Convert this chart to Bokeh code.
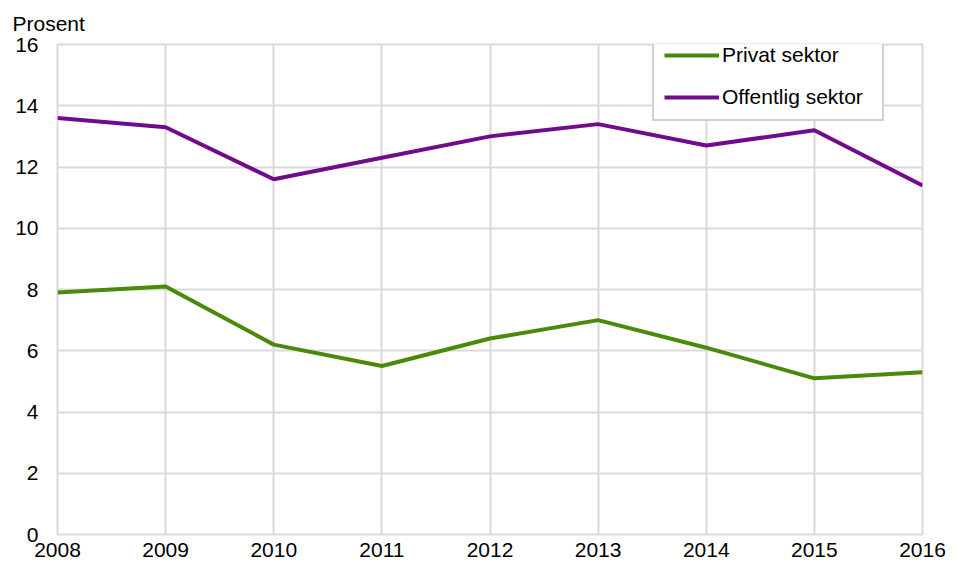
from bokeh.plotting import figure
from bokeh.models import Legend, LegendItem, FixedTicker, Range1d
from bokeh.embed import file_html
from bokeh.resources import INLINE

years = [2008, 2009, 2010, 2011, 2012, 2013, 2014, 2015, 2016]
privat = [7.9, 8.1, 6.2, 5.5, 6.4, 7.0, 6.1, 5.1, 5.3]
offentlig = [13.6, 13.3, 11.6, 12.3, 13.0, 13.4, 12.7, 13.2, 11.4]
y_ticks = [0, 2, 4, 6, 8, 10, 12, 14, 16]

FONT = "Liberation Sans"
GRID = "#d9d9d9"
FS = "21px"

p = figure(width=950, height=563, output_backend="svg", toolbar_location=None,
           x_range=Range1d(2008, 2016), y_range=Range1d(0, 16),
           min_border_left=57, min_border_right=28, min_border_top=44, min_border_bottom=29)

p.title.text = "Prosent"
p.title.text_font = FONT
p.title.text_font_size = FS
p.title.text_font_style = "normal"
p.title.text_color = "#000000"
p.title.align = "left"
p.title.offset = -45
p.title.standoff = 19

p.outline_line_color = GRID
p.outline_line_width = 2

for ax in (p.xaxis[0], p.yaxis[0]):
    ax.axis_line_color = None
    ax.major_tick_line_color = None
    ax.minor_tick_line_color = None
    ax.major_tick_in = 0
    ax.major_tick_out = 0
    ax.major_label_text_font = FONT
    ax.major_label_text_font_size = FS
    ax.major_label_text_color = "#000000"

p.xaxis.ticker = FixedTicker(ticks=years)
p.yaxis.ticker = FixedTicker(ticks=y_ticks)
p.xaxis.major_label_standoff = 8
p.yaxis.major_label_standoff = 19

p.xgrid.ticker = FixedTicker(ticks=years)
p.ygrid.ticker = FixedTicker(ticks=y_ticks)
p.grid.grid_line_color = GRID
p.grid.grid_line_width = 2

r1 = p.line(years, privat, line_color="#4A8A0B", line_width=4)
r2 = p.line(years, offentlig, line_color="#710B8C", line_width=4)

legend = Legend(items=[LegendItem(label="Privat sektor", renderers=[r1]),
                       LegendItem(label="Offentlig sektor", renderers=[r2])],
                location=(595, 413))
legend.label_text_font = FONT
legend.label_text_font_size = FS
legend.label_text_color = "#000000"
legend.glyph_width = 55
legend.glyph_height = 20
legend.label_height = 20
legend.label_width = 150
legend.label_standoff = 3
legend.spacing = 18
legend.padding = 10
legend.margin = 0
legend.border_line_color = "#d0d0d0"
legend.border_line_width = 2
legend.border_line_alpha = 1
legend.background_fill_color = "white"
legend.background_fill_alpha = 1
legend.level = "overlay"
p.add_layout(legend, "center")

open("out.html", "w").write(file_html(p, INLINE))
